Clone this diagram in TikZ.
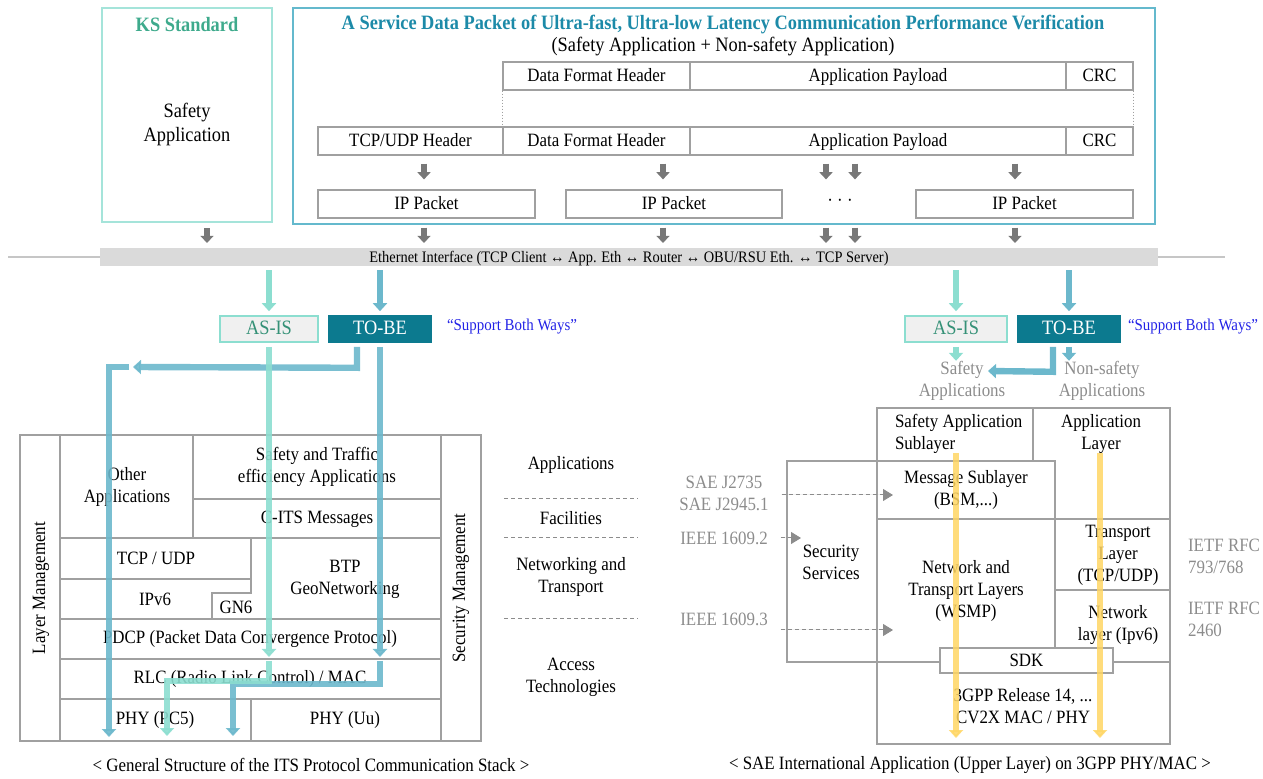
\documentclass[tikz,border=0pt]{standalone}
\usepackage{fontspec}
\setmainfont{Liberation Serif}[FakeStretch=0.9]
\usetikzlibrary{fit,arrows.meta}

\definecolor{asisteal}{RGB}{140,222,208}
\definecolor{tobeblue}{RGB}{108,184,204}
\definecolor{tobefill}{RGB}{12,122,143}
\definecolor{kstitle}{RGB}{62,170,140}
\definecolor{ksframe}{RGB}{165,228,218}
\definecolor{svcframe}{RGB}{100,185,205}
\definecolor{svctitle}{RGB}{28,138,168}
\definecolor{boxgray}{RGB}{160,160,160}
\definecolor{arrgray}{RGB}{120,120,120}
\definecolor{ethgray}{RGB}{218,218,218}
\definecolor{labgray}{RGB}{140,140,140}
\definecolor{bothblue}{RGB}{35,35,230}
\definecolor{yellowarr}{RGB}{255,214,100}

\newcommand{\basesize}{\fontsize{9.4}{11}\selectfont}
\newcommand{\bigsize}{\fontsize{10.2}{12}\selectfont}
\newcommand{\smallsize}{\fontsize{8}{9.5}\selectfont}
\newcommand{\bothsize}{\fontsize{8.3}{10}\selectfont}

\tikzset{
  even text/.style={text height=1.55ex, text depth=0.35ex},
  pktbox/.style={draw=boxgray, line width=0.6pt, inner sep=0pt, label={[font=\basesize, even text]center:#1}},
  grid/.style={draw=boxgray, line width=0.6pt},
  lbl/.style={font=\basesize, align=center},
  graylbl/.style={font=\basesize, align=center, text=labgray},
  grayarr/.style={draw=arrgray, line width=2.6pt, -{Triangle[width=6.5pt,length=3.6pt]}},
  asisarr/.style={draw=asisteal, line width=3pt, line join=miter, -{Triangle[width=7pt,length=4pt]}},
  tobearr/.style={draw=tobeblue, line width=3.2pt, line join=miter, -{Triangle[width=7pt,length=4pt]}},
  yelarr/.style={draw=yellowarr, line width=3pt, opacity=0.85, -{Triangle[width=7pt,length=4pt]}},
  reflink/.style={draw=labgray, line width=0.5pt, dash pattern=on 2pt off 1.5pt, -{Triangle[width=6pt,length=5pt]}, fill=labgray},
  asisbox/.style={draw=asisteal, line width=0.8pt, fill=black!6, inner sep=0pt, label={[font=\bigsize, even text, text=kstitle!85!black]center:AS-IS}},
  tobebox/.style={draw=tobefill, line width=0.8pt, fill=tobefill, inner sep=0pt, label={[font=\bigsize, even text, text=white]center:TO-BE}},
}

\begin{document}
\begin{tikzpicture}[x=0.5pt,y=-0.5pt]
\useasboundingbox (0,0) rectangle (1263,779);

% KS standard
\node[fit={(102,8)(272,222)}, draw=ksframe, line width=1.3pt, inner sep=0pt] (ksbox) {};
\node[font=\bigsize\bfseries, text=kstitle] (kstitle) at (187,25) {KS Standard};
\node[font=\bigsize, align=center] (kssafety) at (187,124) {Safety\\Application};

% service data packet
\node[fit={(293,8)(1155,224)}, draw=svcframe, line width=1.3pt, inner sep=0pt] (svcbox) {};
\node[font=\bigsize\bfseries, text=svctitle] (svctitle) at (723,25) {A Service Data Packet of Ultra-fast, Ultra-low Latency Communication Performance Verification};
\node[font=\bigsize] (svcsub) at (723,47) {(Safety Application + Non-safety Application)};

\node[pktbox=Data Format Header, fit={(503,62)(690,90)}] (dfhA) {};
\node[pktbox=Application Payload, fit={(690,62)(1066,90)}] (payA) {};
\node[pktbox=CRC, fit={(1066,62)(1133,90)}] (crcA) {};

\node[pktbox=TCP/UDP Header, fit={(318,127)(503,155)}] (tcphdr) {};
\node[pktbox=Data Format Header, fit={(503,127)(690,155)}] (dfhB) {};
\node[pktbox=Application Payload, fit={(690,127)(1066,155)}] (payB) {};
\node[pktbox=CRC, fit={(1066,127)(1133,155)}] (crcB) {};
\draw[boxgray, densely dotted, line width=0.5pt] (dfhA.south west) -- (dfhB.north west);% left dotted guide
\draw[boxgray, densely dotted, line width=0.5pt] (crcA.south east) -- (crcB.north east);% right dotted guide

\node[pktbox=IP Packet, fit={(318,190)(535,218)}] (ip1) {};
\node[pktbox=IP Packet, fit={(566,190)(782,218)}] (ip2) {};
\node[font=\basesize] (ipdots) at (840,203) {· · ·};
\node[pktbox=IP Packet, fit={(916,190)(1133,218)}] (ip3) {};

% packet arrows
\foreach \ax in {424,663,826,855,1015}
  \draw[grayarr, shorten <=4pt, shorten >=5pt] (payB.south -| \ax,0) -- (ip1.north -| \ax,0);
\foreach \ax in {424,663,826,855,1015}
  \draw[grayarr, shorten <=4.5pt, shorten >=2.5pt] (ip1.south -| \ax,0) -- (1,248 -| \ax,0);
\draw[grayarr, shorten <=2.5pt, shorten >=2.5pt] (ksbox.south -| 207,0) -- (1,248 -| 207,0);

% ethernet bar
\draw[boxgray!60, line width=0.6pt] (8,257) -- (1225,257);
\node[fit={(100,248)(1158,266)}, fill=ethgray, inner sep=0pt, label={[font=\smallsize, even text]center:Ethernet Interface (TCP Client ↔ App. Eth ↔ Router ↔ OBU/RSU Eth. ↔ TCP Server)}] (eth) {};

% AS-IS / TO-BE, left
\node[asisbox, fit={(220,316)(318,342)}] (asisL) {};
\node[tobebox, fit={(329,316)(431,342)}] (tobeL) {};
\node[font=\bothsize, text=bothblue] (bothL) at (512,327) {“Support Both Ways”};
\draw[asisarr, shorten <=2pt, shorten >=2pt] (eth.south -| asisL) -- (asisL);
\draw[tobearr, shorten <=2pt, shorten >=2pt] (eth.south -| tobeL) -- (tobeL);

% AS-IS / TO-BE, right
\node[asisbox, fit={(905,316)(1007,342)}] (asisR) {};
\node[tobebox, fit={(1018,316)(1120,342)}] (tobeR) {};
\node[font=\bothsize, text=bothblue] (bothR) at (1193,327) {“Support Both Ways”};
\draw[asisarr, shorten <=2pt, shorten >=2pt] (eth.south -| asisR) -- (asisR);
\draw[tobearr, shorten <=2pt, shorten >=2pt] (eth.south -| tobeR) -- (tobeR);

\node[graylbl] (safeapps) at (962,381) {Safety\\Applications};
\node[graylbl] (nonsafeapps) at (1102,381) {Non-safety\\Applications};
\draw[asisarr, shorten <=2pt] (asisR.south) -- ++(0,18);
\draw[tobearr, shorten <=2pt] (tobeR.south) -- ++(0,18);
\draw[tobearr, shorten <=2pt] ([xshift=-8pt]tobeR.south) -- ++(0,29) -- (988,371);

% ITS protocol stack
\draw[grid] (20,435) rectangle (481,741);% outer frame
\draw[grid] (60,435) -- (60,741) (441,435) -- (441,741);% management columns
\draw[grid] (193,435) -- (193,538) (193,499) -- (441,499);% applications / facilities
\draw[grid] (60,538) -- (441,538) (60,579) -- (251,579);% networking rows
\draw[grid] (251,538) -- (251,593) -- (212,593) -- (212,619);% GN6 step
\draw[grid] (60,619) -- (441,619) (60,659) -- (441,659) (60,699) -- (441,699) (251,699) -- (251,741);% access rows

\node[lbl, rotate=90] (laymgmt) at (41,588) {Layer Management};
\node[lbl, rotate=90] (secmgmt) at (461,588) {Security Management};
\node[lbl] (otherapps) at (127,487) {Other\\Applications};
\node[lbl] (safetytraffic) at (317,467) {Safety and Traffic\\efficiency Applications};
\node[lbl] (citsmsg) at (317,519) {C-ITS Messages};
\node[lbl] (tcpudp) at (156,558) {TCP / UDP};
\node[lbl] (ipv6) at (155,599) {IPv6};
\node[lbl] (gn6) at (236,607) {GN6};
\node[lbl] (btpgeo) at (345,579) {BTP\\GeoNetworking};
\node[lbl] (pdcp) at (250,639) {PDCP (Packet Data Convergence Protocol)};
\node[lbl] (rlcmac) at (250,679) {RLC (Radio Link Control) / MAC};
\node[lbl] (phypc5) at (155,720) {PHY (PC5)};
\node[lbl] (phyuu) at (345,720) {PHY (Uu)};

% stack arrows
\begin{scope}[opacity=0.9]
\draw[tobearr, shorten <=2pt] ([xshift=-11.5pt]tobeL.south) -- ++(0,25) -- (133,367);
\draw[tobearr] (129,367) -- (109,367) -- (109,737);
\draw[tobearr, shorten <=2pt] (tobeL.south) -- (tobeL.south |- 0,657);
\draw[tobearr] (tobeL.south |- 0,661) -- (tobeL.south |- 0,684) -- (233,684) -- (233,736);
\draw[asisarr, shorten <=2pt] (asisL.south) -- (asisL.south |- 0,657);
\draw[asisarr] (asisL.south |- 0,661) -- (asisL.south |- 0,681) -- (167,681) -- (167,736);
\end{scope}

% layer names
\node[lbl] (applbl) at (571,465) {Applications};
\node[lbl] (faclbl) at (571,518) {Facilities};
\node[lbl] (netlbl) at (571,577) {Networking and\\Transport};
\node[lbl] (acclbl) at (571,677) {Access\\Technologies};
\foreach \ly in {499,538,619}
  \draw[labgray, line width=0.5pt, dash pattern=on 2pt off 1.5pt] (504,\ly) -- (638,\ly);

% SAE stack
\draw[grid] (877,408) rectangle (1170,744);
\draw[grid] (1033,408) -- (1033,461);
\draw[grid] (787,461) rectangle (1055,662);
\draw[grid] (877,519) -- (1170,519) (1055,590) -- (1170,590) (1055,662) -- (1170,662);
\node[pktbox=SDK, fill=white, fit={(940,648)(1113,673)}] (sdk) {};

\node[lbl, align=left, anchor=west] (safsub) at (888,434) {Safety Application\\Sublayer};
\node[lbl] (applayer) at (1101,434) {Application\\Layer};
\node[lbl] (msgsub) at (966,490) {Message Sublayer\\(BSM,...)};
\node[lbl] (secserv) at (831,562) {Security\\Services};
\node[lbl] (nettrans) at (966,591) {Network and\\Transport Layers\\(WSMP)};
\node[lbl] (translayer) at (1118,555) {Transport\\Layer\\(TCP/UDP)};
\node[lbl] (netlayer) at (1118,625) {Network\\layer (Ipv6)};
\node[lbl] (cv2x) at (1023,706) {3GPP Release 14, ...\\CV2X MAC / PHY};

\draw[yelarr] (956,453) -- (956,738);% safety path
\draw[yelarr] (1100,453) -- (1100,738);% non-safety path

\node[graylbl] (saelbl) at (724,493) {SAE J2735\\SAE J2945.1};
\node[graylbl] (ieee2) at (724,538) {IEEE 1609.2};
\node[graylbl] (ieee3) at (724,619) {IEEE 1609.3};
\node[graylbl, align=left, anchor=west] (ietf1) at (1181,556) {IETF RFC\\793/768};
\node[graylbl, align=left, anchor=west] (ietf2) at (1181,619) {IETF RFC\\2460};
\draw[reflink] (saelbl.east |- 0,495) ++(3pt,0) -- (893,495);
\draw[reflink] (ieee2.east) ++(3pt,0) -- (ieee2.east -| 801,0);
\draw[reflink] (ieee3.east |- 0,630) ++(3pt,0) -- (893,630);

% captions
\node[lbl] (capleft) at (311,765) {< General Structure of the ITS Protocol Communication Stack >};
\node[lbl] (capright) at (970,765) {< SAE International  Application (Upper Layer) on 3GPP PHY/MAC >};
\end{tikzpicture}
\end{document}
